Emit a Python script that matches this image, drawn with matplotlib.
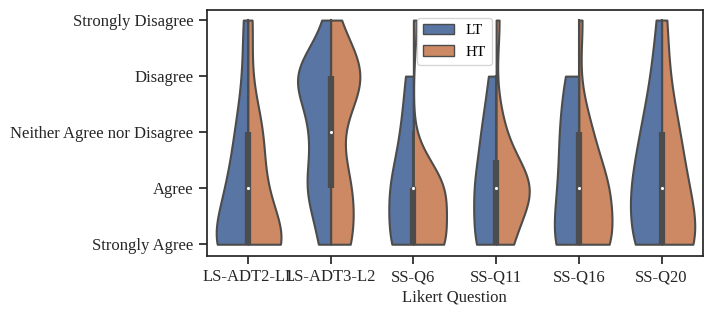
import numpy as np
import matplotlib
matplotlib.use("Agg")
import matplotlib.pyplot as plt
from matplotlib.patches import Patch

plt.rcParams["font.family"] = ["Liberation Serif", "DejaVu Serif"]

# likert levels, 1 = Strongly Agree ... 5 = Strongly Disagree
levels = [1, 2, 3, 4, 5]
level_labels = ["Strongly Agree", "Agree", "Neither Agree nor Disagree",
                "Disagree", "Strongly Disagree"]
questions = ["LS-ADT2-L1", "LS-ADT3-L2", "SS-Q6", "SS-Q11", "SS-Q16", "SS-Q20"]
groups = ["LT", "HT"]

# response counts per level (1..5)
lt_counts = [
    [15, 8, 5, 2, 2],
    [5, 11, 8, 17, 2],
    [6, 6, 3, 2, 0],
    [6, 6, 4, 2, 0],
    [6, 4, 4, 3, 0],
    [6, 6, 4, 2, 1],
]
ht_counts = [
    [16, 6, 6, 1, 2],
    [10, 10, 2, 18, 2],
    [9, 9, 0, 0, 1],
    [4, 10, 2, 0, 1],
    [8, 7, 3, 0, 1],
    [7, 4, 3, 1, 1],
]

blue = "#5875a4"
orange = "#cc8963"
gray = "#4c4c4c"
lw = 1.5


def kde(obs, grid):
    bw = obs.std(ddof=1) * len(obs) ** (-1 / 5)
    z = (grid[:, None] - obs[None, :]) / bw
    return np.exp(-0.5 * z ** 2).sum(1) / (len(obs) * bw * np.sqrt(2 * np.pi))


fig = plt.figure(figsize=(7.13, 3.17), dpi=100)
ax = fig.add_axes([206.5 / 713, 1 - 256 / 317, (703 - 206.5) / 713, 246 / 317])

for i, q in enumerate(questions):
    lt = np.repeat(levels, lt_counts[i]).astype(float)
    ht = np.repeat(levels, ht_counts[i]).astype(float)
    halves = []
    for obs in (lt, ht):
        grid = np.linspace(obs.min(), obs.max(), 100)
        halves.append((grid, kde(obs, grid)))
    peak = max(d.max() for g, d in halves)
    for side, (grid, d), col in zip((-1, 1), halves, (blue, orange)):
        ax.fill_betweenx(grid, i, i + side * d / peak * 0.4,
                         facecolor=col, edgecolor=gray, linewidth=lw)

    allobs = np.concatenate([lt, ht])
    q25, q50, q75 = np.percentile(allobs, [25, 50, 75])
    iqr = q75 - q25
    lo = allobs[allobs >= q25 - 1.5 * iqr].min()
    hi = allobs[allobs <= q75 + 1.5 * iqr].max()
    ax.plot([i, i], [lo, hi], color=gray, linewidth=lw, zorder=2)
    ax.plot([i, i], [q25, q75], color=gray, linewidth=lw * 3, zorder=2,
            solid_capstyle="butt")
    ax.scatter(i, q50, s=(lw * 2) ** 2, color="white", edgecolor=gray,
               linewidth=lw / 2, zorder=3)

ax.set_xlim(-0.5, len(questions) - 0.5)
ax.set_ylim(0.79, 5.18)
ax.set_xticks(range(len(questions)))
ax.set_xticklabels(questions)
ax.set_yticks(levels)
ax.set_yticklabels(level_labels)
ax.set_xlabel("Likert Question", fontsize=12, color="#262626", labelpad=3)
ax.tick_params(labelsize=12, length=6, width=1.25, color="#262626",
               labelcolor="#262626")
for s in ax.spines.values():
    s.set_linewidth(1.25)
    s.set_color("#262626")

handles = [Patch(facecolor=blue, edgecolor=gray, label="LT"),
           Patch(facecolor=orange, edgecolor=gray, label="HT")]
ax.legend(handles=handles, loc="upper center", fontsize=11)

fig.savefig("out.png", dpi=100)
